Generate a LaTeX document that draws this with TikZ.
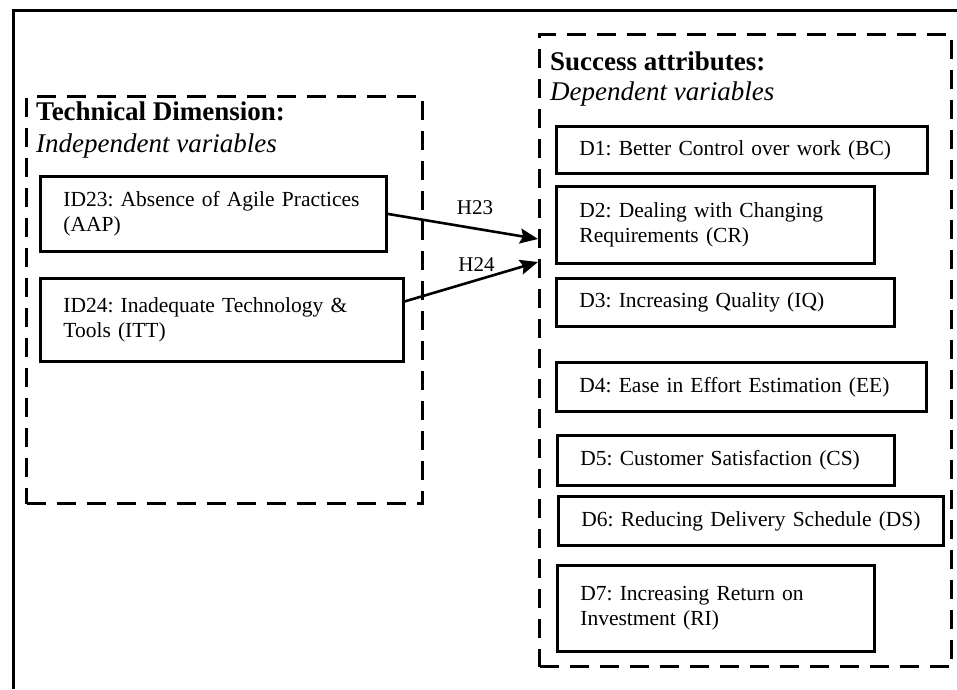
\documentclass[tikz,border=0pt]{standalone}
\usepackage{fontspec}
\setmainfont{Liberation Serif}
\usetikzlibrary{arrows.meta,calc}
\frenchspacing
\begin{document}
\begin{tikzpicture}[x=1pt,y=-1pt,
  frame/.style={line width=3pt},
  dashbox/.style={draw, line width=3pt, dash pattern=on 19pt off 11pt,
    inner sep=0pt, anchor=north west},
  varbox/.style 2 args={draw, line width=2.8pt, anchor=north west,
    inner xsep=23pt, inner ysep=0pt, align=left,
    minimum width=#1, text width=#1-46pt, minimum height=#2,
    font=\fontsize{21.5}{25.5}\selectfont},
  heading/.style={anchor=base west, inner sep=0pt,
    font=\fontsize{27}{32}\selectfont\bfseries},
  subheading/.style={anchor=base west, inner sep=0pt,
    font=\fontsize{27}{32}\selectfont\itshape},
  hyp/.style={-{Stealth[length=18pt,width=15pt,inset=3pt]}, line width=2.6pt},
  hlabel/.style={font=\fontsize{21}{24}\selectfont, inner sep=0pt}
]
\useasboundingbox (0,0) rectangle (957,689);
\fill[white] (0,0) rectangle (957,689);

% outer frame (open to the right and bottom)
\draw[frame] (957,10) -- (13,10) -- (13,689);

% group frames
\node[dashbox, minimum width=396pt, minimum height=407pt] (indep) at (25,95) {};
\node[dashbox, minimum width=412pt, minimum height=632pt] (dep) at (538,33) {};

% group headings
\node[heading] (techtitle) at (36,120.7) {Technical Dimension:};
\node[subheading] (techsub) at (36,152.5) {Independent variables};
\node[heading] (succtitle) at (550,70.7) {Success attributes:};
\node[subheading] (succsub) at (550,100) {Dependent variables};

% independent variables
\node[varbox={346pt}{75pt}] (id23) at (39,175)
  {\mbox{ID23: Absence of Agile Practices}\\(AAP)};
\node[varbox={363pt}{83pt}] (id24) at (39,277)
  {\mbox{ID24: Inadequate Technology \&}\\Tools (ITT)};

% dependent variables
\node[varbox={371pt}{47pt}] (d1) at (555,125) {\mbox{D1: Better Control over work (BC)}};
\node[varbox={318pt}{77pt}] (d2) at (555,185) {\mbox{D2: Dealing with Changing}\\Requirements (CR)};
\node[varbox={338pt}{48pt}] (d3) at (555,277) {\mbox{D3: Increasing Quality (IQ)}};
\node[varbox={370pt}{49pt}] (d4) at (555,361) {\mbox{D4: Ease in Effort Estimation (EE)}};
\node[varbox={337pt}{50pt}] (d5) at (556,434) {\mbox{D5: Customer Satisfaction (CS)}};
\node[varbox={385pt}{49pt}] (d6) at (557,495) {\mbox{D6: Reducing Delivery Schedule (DS)}};
\node[varbox={317pt}{86pt}] (d7) at (556,564) {\mbox{D7: Increasing Return on}\\Investment (RI)};

% hypotheses
\coordinate (t23) at (538,239);
\coordinate (t24) at (538,262);
\draw[hyp] (id23.east) -- (t23);
\draw[hyp] ($(id24.east)+(0,-18.5)$) -- (t24);
\node[hlabel] (h23) at (475,208) {H23};
\node[hlabel] (h24) at (476.5,265) {H24};
\end{tikzpicture}
\end{document}
